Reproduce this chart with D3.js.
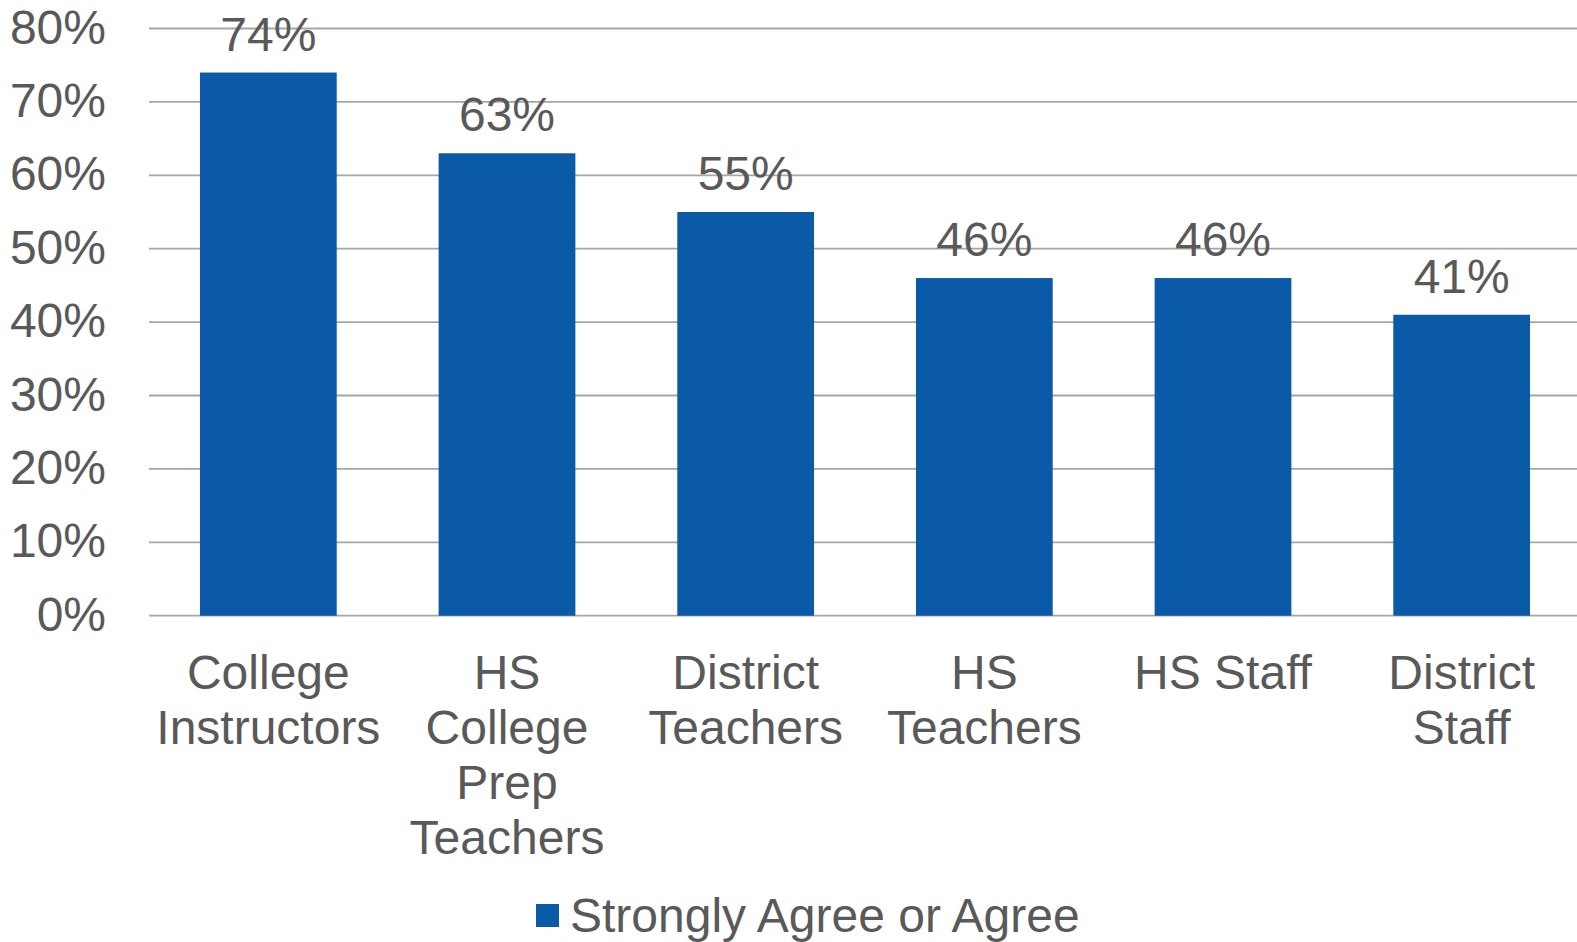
<!DOCTYPE html>
<html>
<head>
<meta charset="utf-8">
<script src="https://cdn.jsdelivr.net/npm/d3@7"></script>
<style>
  html, body { margin: 0; padding: 0; background: #fff; }
  svg { display: block; }
  text { font-family: "Liberation Sans", Arial, sans-serif; fill: #595959; }
</style>
</head>
<body>
<svg id="chart" width="1577" height="942"></svg>
<script>
const categories = [
  ["College", "Instructors"],
  ["HS", "College", "Prep", "Teachers"],
  ["District", "Teachers"],
  ["HS", "Teachers"],
  ["HS Staff"],
  ["District", "Staff"]
];
const values = [0.74, 0.63, 0.55, 0.46, 0.46, 0.41];
const yTicks = [0, 0.1, 0.2, 0.3, 0.4, 0.5, 0.6, 0.7, 0.8];
const seriesName = "Strongly Agree or Agree";

const svg = d3.select("#chart");
const fontSize = 48;
const barColor = "#0a5aa7";

const x = d3.scaleBand()
  .domain(d3.range(categories.length))
  .range([149, 1581])
  .paddingInner(0.427)
  .paddingOuter(0.2135);

const y = d3.scaleLinear().domain([0, 0.8]).range([615.7, 28.5]);

// gridlines
svg.append("g").selectAll("line").data(yTicks).join("line")
  .attr("x1", 149).attr("x2", 1577)
  .attr("y1", d => y(d)).attr("y2", d => y(d))
  .attr("stroke", "#a6a6a6").attr("stroke-width", 1.8);

// y axis labels
const yAxis = d3.axisLeft(y).tickValues(yTicks).tickFormat(d3.format(".0%")).tickSize(0).tickPadding(0);
const ya = svg.append("g").attr("transform", "translate(106,0)").call(yAxis);
ya.select(".domain").remove();
ya.selectAll("text")
  .attr("font-size", fontSize)
  .attr("font-family", "Liberation Sans, Arial, sans-serif")
  .attr("fill", "#595959")
  .attr("dy", null)
  .attr("dominant-baseline", null)
  .attr("y", 14.5);

// bars
svg.append("g").selectAll("rect").data(values).join("rect")
  .attr("x", (d, i) => x(i))
  .attr("width", x.bandwidth())
  .attr("y", d => y(d))
  .attr("height", d => y(0) - y(d))
  .attr("fill", barColor);

// value labels
svg.append("g").selectAll("text").data(values).join("text")
  .attr("x", (d, i) => x(i) + x.bandwidth() / 2)
  .attr("y", d => y(d) - 22)
  .attr("text-anchor", "middle")
  .attr("font-size", fontSize)
  .text(d => d3.format(".0%")(d));

// category labels
const cat = svg.append("g").selectAll("text").data(categories).join("text")
  .attr("x", (d, i) => x(i) + x.bandwidth() / 2)
  .attr("y", y(0) + 73)
  .attr("text-anchor", "middle")
  .attr("font-size", fontSize);
cat.selectAll("tspan").data(d => d).join("tspan")
  .attr("x", function() { return d3.select(this.parentNode).attr("x"); })
  .attr("dy", (d, i) => i === 0 ? 0 : 55)
  .text(d => d);

// legend
const lg = svg.append("g");
lg.append("rect").attr("x", 536).attr("y", 904).attr("width", 23).attr("height", 23).attr("fill", barColor);
lg.append("text").attr("x", 570).attr("y", 932).attr("font-size", fontSize).text(seriesName);
</script>
</body>
</html>
